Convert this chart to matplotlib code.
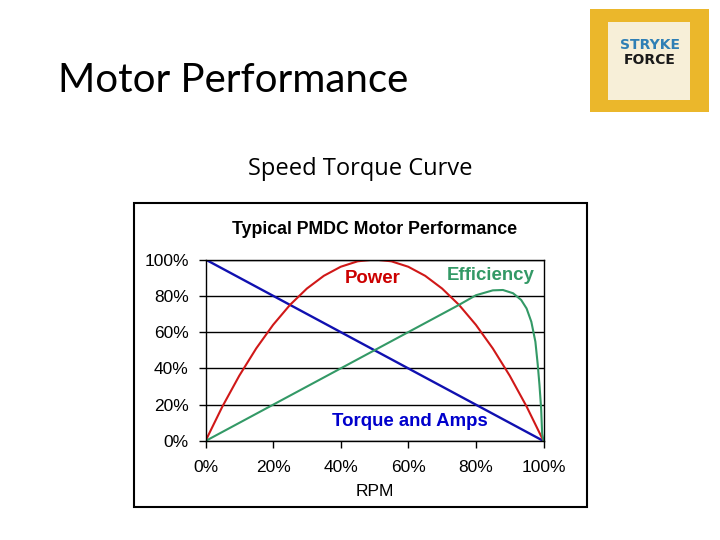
import matplotlib.pyplot as plt
from matplotlib.patches import Rectangle
import numpy as np

# values (percent)
rpm_torque = [0, 20, 40, 60, 80, 100]
torque = [100, 80, 60, 40, 20, 0]

rpm_power = [0, 5, 10, 15, 20, 25, 30, 35, 40, 45, 50, 55, 60, 65, 70, 75, 80, 85, 90, 95, 100]
power = [0, 19, 36, 51, 64, 75, 84, 91, 96, 99, 100, 99, 96, 91, 84, 75, 64, 51, 36, 19, 0]

rpm_eff = [0, 10, 20, 30, 40, 50, 60, 70, 75, 80, 85, 88, 91, 93.4, 95, 96.4, 97.6, 98.3, 98.8, 99.3, 99.6, 100]
eff = [0, 10, 20, 30, 40, 50, 60, 70, 75, 80.3, 83, 83.2, 81.4, 77.7, 73, 65.7, 54.7, 42, 31, 18, 4, 0]

ticks = [0, 20, 40, 60, 80, 100]
tick_labels = ['0%', '20%', '40%', '60%', '80%', '100%']

fig = plt.figure(figsize=(7.2, 5.4), dpi=100)

# slide texts
fig.text(58/720, 1-80/540, 'Motor Performance', fontsize=29, family='Lato',
         va='center', ha='left', color='black')
fig.text(360/720, 1-169/540, 'Speed Torque Curve', fontsize=17, family='Open Sans',
         va='center', ha='center', color='black')

# logo block
fig.patches.append(Rectangle((590/720, 1-112/540), 119/720, 103/540,
                             transform=fig.transFigure, facecolor='#ebb72b', edgecolor='none'))
fig.patches.append(Rectangle((608/720, 1-100/540), 82/720, 78/540,
                             transform=fig.transFigure, facecolor='#f7efd8', edgecolor='none'))
fig.text(650/720, 1-45/540, 'STRYKE', fontsize=10, weight='bold', color='#2f7fb5',
         ha='center', va='center', family='DejaVu Sans')
fig.text(650/720, 1-60/540, 'FORCE', fontsize=10, weight='bold', color='#1a1a1a',
         ha='center', va='center', family='DejaVu Sans')

# border of the embedded chart
fig.patches.append(Rectangle((134/720, 1-507/540), 453/720, 304/540,
                             transform=fig.transFigure, facecolor='none',
                             edgecolor='black', linewidth=1.5))

ax = fig.add_axes([205.5/720, 1-441/540, 338/720, 181.5/540])
ax.set_facecolor('white')
ax.plot(rpm_torque, torque, color='#1010b0', lw=1.7)
ax.plot(rpm_power, power, color='#d01818', lw=1.5)
ax.plot(rpm_eff, eff, color='#339966', lw=1.5)

ax.set_xlim(0, 100)
ax.set_ylim(0, 100)
ax.set_xticks(ticks)
ax.set_xticklabels(tick_labels)
ax.set_yticks(ticks)
ax.set_yticklabels(tick_labels)
ax.yaxis.grid(True, color='black', lw=1)
ax.set_axisbelow(True)
for s in ax.spines.values():
    s.set_color('black')
    s.set_linewidth(1)
ax.tick_params(direction='out', length=5, width=1, colors='black', labelsize=12.5, pad=7)
for lab in ax.get_xticklabels() + ax.get_yticklabels():
    lab.set_family('Liberation Sans')
ax.tick_params(axis='x', pad=9)

ax.set_xlabel('RPM', fontsize=12.5, family='Liberation Sans', labelpad=6)
ax.text(0.5, 1.165, 'Typical PMDC Motor Performance', transform=ax.transAxes,
        fontsize=12.8, weight='bold', family='Liberation Sans', ha='center', va='center')

ax.text(49.5, 89.5, 'Power', color='#cc0000', fontsize=13.4, weight='bold',
        family='Liberation Sans', ha='center', va='center')
ax.text(84.5, 91, 'Efficiency', color='#339966', fontsize=13.4, weight='bold',
        family='Liberation Sans', ha='center', va='center')
ax.text(60.5, 11, 'Torque and Amps', color='#0000cc', fontsize=13.4, weight='bold',
        family='Liberation Sans', ha='center', va='center')

fig.savefig('out.png', dpi=100)
